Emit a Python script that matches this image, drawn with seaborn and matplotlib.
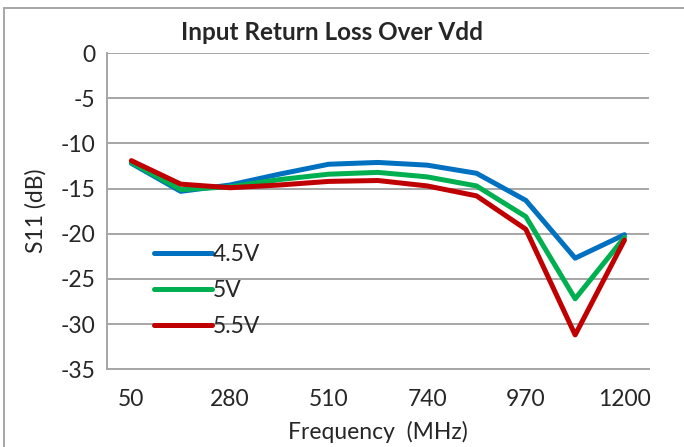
import numpy as np
import pandas as pd
import matplotlib
matplotlib.use('Agg')
import matplotlib.pyplot as plt
import seaborn as sns
from matplotlib.lines import Line2D

# frequency points (MHz)
freq = [50, 165, 280, 395, 510, 625, 740, 855, 970, 1085, 1200]

# S11 readings per supply voltage
s11_45 = [-12.2, -15.3, -14.6, -13.4, -12.3, -12.1, -12.4, -13.3, -16.3, -22.7, -20.1]
s11_50 = [-12.1, -15.1, -14.8, -14.0, -13.4, -13.2, -13.7, -14.7, -18.1, -27.2, -20.4]
s11_55 = [-11.9, -14.5, -14.9, -14.6, -14.2, -14.1, -14.7, -15.8, -19.5, -31.2, -20.7]

series = ['4.5V', '5V', '5.5V']
xticks = [50, 280, 510, 740, 970, 1200]
yticks = [0, -5, -10, -15, -20, -25, -30, -35]

df = pd.DataFrame({
    'freq': freq * 3,
    's11': s11_45 + s11_50 + s11_55,
    'vdd': [series[0]] * len(freq) + [series[1]] * len(freq) + [series[2]] * len(freq),
})

colormap = {'4.5V': '#0070C0', '5V': '#00B050', '5.5V': '#C00000'}
fs = 16.5

sns.set_style('white')
plt.rcParams['font.family'] = ['Lato', 'DejaVu Sans']

fig = plt.figure(figsize=(6.84, 4.47), dpi=100)
ax = fig.add_axes([0.156, 0.174, 0.793, 0.707])

sns.lineplot(data=df, x='freq', y='s11', hue='vdd', palette=colormap,
             linewidth=3.6, ax=ax, legend=False, solid_capstyle='round')

ax.set_xlim(50 - 57.5, 1200 + 57.5)
ax.set_ylim(-35, 0)
ax.set_xticks(xticks)
ax.set_yticks(yticks)
ax.set_xticklabels([str(t) for t in xticks], fontsize=fs)
ax.set_yticklabels([str(t) for t in yticks], fontsize=fs)
ax.tick_params(axis='x', length=0, pad=14)
ax.tick_params(axis='y', length=0, pad=8)

# grid lines, drawn under the data
ax.grid(axis='y', color='#A6A6A6', linewidth=1.4)
ax.grid(axis='x', visible=False)
ax.set_axisbelow(True)

for side in ['top', 'right']:
    ax.spines[side].set_visible(False)
for side in ['left', 'bottom']:
    ax.spines[side].set_color('#A6A6A6')
    ax.spines[side].set_linewidth(1.4)

fig.text(332 / 684, 1 - 32 / 447, 'Input Return Loss Over Vdd', fontsize=17.5,
         fontweight='bold', ha='center', va='center')
ax.set_xlabel('Frequency  (MHz)', fontsize=fs, labelpad=8)
ax.set_ylabel('S11 (dB)', fontsize=fs, labelpad=10)

handles = [Line2D([0], [0], color=colormap[s], linewidth=3.6, solid_capstyle='round') for s in series]
ax.legend(handles, series, loc='center left', bbox_to_anchor=(0.088, 0.25),
          frameon=False, fontsize=fs, handlelength=2.5, handletextpad=0.05,
          labelspacing=0.66, borderaxespad=0, borderpad=0)

# outer chart border (only left and top visible in the reference)
fig.add_artist(Line2D([4 / 684, 4 / 684], [0, 1 - 8 / 447], transform=fig.transFigure,
                      color='#A6A6A6', linewidth=1.4))
fig.add_artist(Line2D([4 / 684, 1], [1 - 8 / 447, 1 - 8 / 447], transform=fig.transFigure,
                      color='#A6A6A6', linewidth=1.4))

fig.savefig('out.png', dpi=100)
